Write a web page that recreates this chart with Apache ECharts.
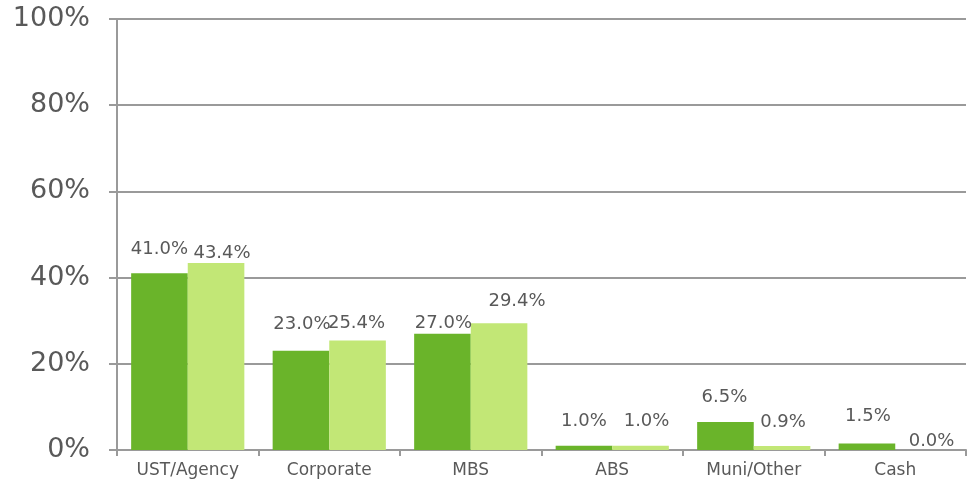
<!DOCTYPE html>
<html><head><meta charset="utf-8">
<script src="https://cdn.jsdelivr.net/npm/echarts@6/dist/echarts.min.js"></script>
<style>html,body{margin:0;padding:0;background:#fff}#c{width:969px;height:487px}</style>
</head><body><div id="c"></div>
<script>
const categories = ['UST/Agency','Corporate','MBS','ABS','Muni/Other','Cash'];
const seriesA = [41.0, 23.0, 27.0, 1.0, 6.5, 1.5];
const seriesB = [43.4, 25.4, 29.4, 1.0, 0.9, 0.0];
const yTicks = [0, 20, 40, 60, 80, 100];

// label nudges (style only)
const nudgeA = [[0,-10],[1,-13],[1,4],[0,-10],[-1,-11],[1,-13]];
const nudgeB = [[6,4],[-1,-3],[18,-8],[6,-10],[1,-10],[8,5]];

const font = 'DejaVu Sans, Verdana, sans-serif';
const axisGray = '#9a9a9a';
const textGray = '#595959';

function mk(vals, nudges){
  return vals.map((v,i)=>({value:v, label:{offset:nudges[i]}}));
}
const labelCfg = {show:true, position:'top', distance:5, fontFamily:font, fontSize:18, color:textGray,
  formatter:p=>p.value.toFixed(1)+'%'};

const chart = echarts.init(document.getElementById('c'), null, {renderer:'canvas'});
chart.setOption({
  animation:false,
  grid:{left:117, right:3, top:19, bottom:37, containLabel:false},
  xAxis:{type:'category', data:categories,
    axisLine:{show:true, lineStyle:{color:axisGray, width:2}},
    axisTick:{show:true, length:6, lineStyle:{color:axisGray, width:2}},
    axisLabel:{fontFamily:font, fontSize:17, color:textGray, margin:12}},
  yAxis:{type:'value', min:yTicks[0], max:yTicks[yTicks.length-1], interval:yTicks[1]-yTicks[0],
    axisLine:{show:true, lineStyle:{color:axisGray, width:2}},
    axisTick:{show:true, length:8, lineStyle:{color:axisGray, width:2}},
    splitLine:{show:true, lineStyle:{color:axisGray, width:2}},
    axisLabel:{formatter:'{value}%', fontFamily:font, fontSize:27, color:textGray, margin:27}},
  series:[
    {type:'bar', data:mk(seriesA,nudgeA), barGap:'0%', barCategoryGap:'20%', itemStyle:{color:'#6ab42a'}, label:labelCfg},
    {type:'bar', data:mk(seriesB,nudgeB), itemStyle:{color:'#c2e776'}, label:labelCfg}
  ]
});
</script></body></html>
